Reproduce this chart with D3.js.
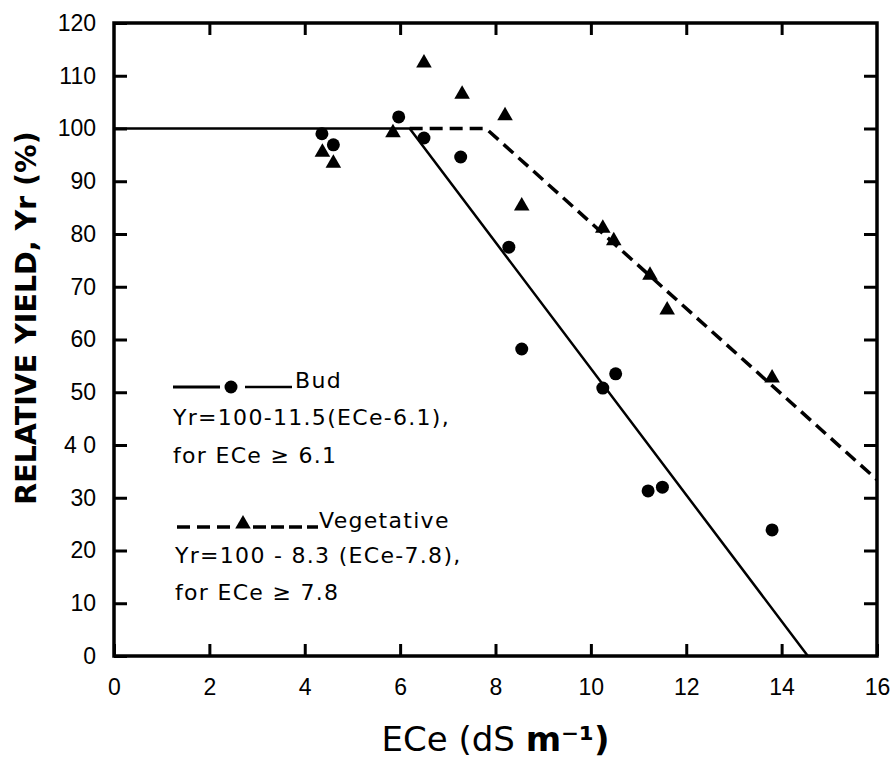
<!DOCTYPE html>
<html>
<head>
<meta charset="utf-8">
<script src="https://cdn.jsdelivr.net/npm/d3@7"></script>
<style>
  body { margin: 0; background: #fff; }
  svg { display: block; }
</style>
</head>
<body>
<svg id="chart" width="892" height="758"></svg>
<script>
// Bud stage (circles)
const budECe   = [4.36, 4.6, 5.97, 6.5, 7.27, 8.28, 8.55, 10.25, 10.52, 11.2, 11.5, 13.8];
const budYield = [99, 96.9, 102.2, 98.2, 94.6, 77.5, 58.2, 50.8, 53.5, 31.3, 32, 23.9];

// Vegetative stage (triangles)
const vegECe   = [4.37, 4.6, 5.85, 6.5, 7.3, 8.2, 8.55, 10.25, 10.48, 11.24, 11.6, 13.8];
const vegYield = [95.5, 93.4, 99.2, 112.4, 106.5, 102.4, 85.3, 81.1, 78.7, 72.2, 65.6, 52.7];

// response lines (threshold-slope), as drawn
const budLineECe   = [0, 6.2, 14.55];
const budLineYield = [100, 100, 0];
const vegLineECe   = [6.2, 7.8, 16];
const vegLineYield = [100, 100, 33.4];

// ticks
const xTicks = [0, 2, 4, 6, 8, 10, 12, 14, 16];
const yTicks = [0, 10, 20, 30, 40, 50, 60, 70, 80, 90, 100, 110, 120];
const yTickLabels = ["0", "10", "20", "30", "4 0", "50", "60", "70", "80", "90", "100", "110", "120"];

const budLegend = ["Bud", "Yr=100-11.5(ECe-6.1),", "for ECe \u2265 6.1"];
const vegLegend = ["Vegetative", "Yr=100 - 8.3 (ECe-7.8),", "for ECe \u2265 7.8"];

const svg = d3.select('#chart');
const margin = { top: 23, right: 15, bottom: 102, left: 114 };
const width = 892 - margin.left - margin.right;
const height = 758 - margin.top - margin.bottom;

const g = svg.append('g').attr('transform', `translate(${margin.left},${margin.top})`);

const x = d3.scaleLinear().domain([0, 16]).range([0, width]);
const y = d3.scaleLinear().domain([0, 120]).range([height, 0]);

// axes: ticks point inward
const xAxis = g.append('g')
  .attr('transform', `translate(0,${height})`)
  .call(d3.axisBottom(x).tickValues(xTicks).tickSizeInner(-12).tickSizeOuter(0).tickPadding(23));
xAxis.selectAll('text')
  .style('font-family', '"Liberation Sans Narrow", "Arial Narrow", "Liberation Sans", sans-serif')
  .style('font-size', '23px')
  .attr('fill', '#000');

const yAxis = g.append('g')
  .call(d3.axisLeft(y).tickValues(yTicks).tickFormat((d, i) => yTickLabels[i])
    .tickSizeInner(-13).tickSizeOuter(0).tickPadding(18));
yAxis.selectAll('text')
  .style('font-family', '"Liberation Sans", Arial, sans-serif')
  .style('font-size', '23px')
  .attr('fill', '#000');

const topAxis = g.append('g')
  .call(d3.axisTop(x).tickValues(xTicks.slice(1, -1)).tickFormat('').tickSizeInner(-12).tickSizeOuter(0));
const rightAxis = g.append('g')
  .attr('transform', `translate(${width},0)`)
  .call(d3.axisRight(y).tickValues(yTicks.slice(1, -1)).tickFormat('').tickSizeInner(-13).tickSizeOuter(0));

[xAxis, yAxis, topAxis, rightAxis].forEach(a => {
  a.select('.domain').remove();
  a.selectAll('line').attr('stroke', '#000').attr('stroke-width', 3);
});

// frame
g.append('rect')
  .attr('x', 0).attr('y', 0)
  .attr('width', width).attr('height', height)
  .attr('fill', 'none')
  .attr('stroke', '#000')
  .attr('stroke-width', 3.5);

// lines
const line = d3.line().x(d => x(d[0])).y(d => y(d[1]));
const budLine = budLineECe.map((v, i) => [v, budLineYield[i]]);
const vegLine = vegLineECe.map((v, i) => [v, vegLineYield[i]]);

g.append('path')
  .datum(vegLine)
  .attr('d', line)
  .attr('fill', 'none')
  .attr('stroke', '#000')
  .attr('stroke-width', 3.5)
  .attr('stroke-dasharray', '13,7');

g.append('path')
  .datum(budLine)
  .attr('d', line)
  .attr('fill', 'none')
  .attr('stroke', '#000')
  .attr('stroke-width', 2.5);

// points
const budPts = budECe.map((v, i) => ({ x: v, y: budYield[i] }));
const vegPts = vegECe.map((v, i) => ({ x: v, y: vegYield[i] }));

g.selectAll('circle.bud')
  .data(budPts)
  .enter()
  .append('circle')
  .attr('class', 'bud')
  .attr('cx', d => x(d.x))
  .attr('cy', d => y(d.y))
  .attr('r', 6.5)
  .attr('fill', '#000');

const tri = d3.symbol().type(d3.symbolTriangle).size(105);
g.selectAll('path.veg')
  .data(vegPts)
  .enter()
  .append('path')
  .attr('class', 'veg')
  .attr('d', tri)
  .attr('transform', d => `translate(${x(d.x)},${y(d.y)})`)
  .attr('fill', '#000');

// legend
const legendFont = '"DejaVu Sans", Verdana, sans-serif';
const budG = g.append('g').attr('transform', 'translate(59,364)');
budG.append('line').attr('x1', 0).attr('x2', 47).attr('y1', 0).attr('y2', 0)
  .attr('stroke', '#000').attr('stroke-width', 3);
budG.append('circle').attr('cx', 58).attr('cy', 0).attr('r', 6.5).attr('fill', '#000');
budG.append('line').attr('x1', 72).attr('x2', 119).attr('y1', 0).attr('y2', 0)
  .attr('stroke', '#000').attr('stroke-width', 2.5);

const vegG = g.append('g').attr('transform', 'translate(63,504)');
vegG.append('line').attr('x1', 0).attr('x2', 55).attr('y1', 0).attr('y2', 0)
  .attr('stroke', '#000').attr('stroke-width', 3.5).attr('stroke-dasharray', '13,7');
vegG.append('path').attr('d', tri).attr('transform', 'translate(66,-3)').attr('fill', '#000');
vegG.append('line').attr('x1', 76).attr('x2', 141).attr('y1', 0).attr('y2', 0)
  .attr('stroke', '#000').attr('stroke-width', 3.5).attr('stroke-dasharray', '13,5');

function legendText(sel, lines, x0, xHead, baselines) {
  sel.selectAll('text')
    .data(lines)
    .enter()
    .append('text')
    .attr('x', (d, i) => i === 0 ? xHead : x0)
    .attr('y', (d, i) => baselines[i])
    .style('font-family', legendFont)
    .style('font-size', '22px')
    .style('letter-spacing', '1.3px')
    .attr('fill', '#000')
    .text(d => d);
}
legendText(budG, budLegend, 0, 122, [1, 38, 76]);
legendText(vegG, vegLegend, -2, 142, [1, 36, 73]);

// axis titles
svg.append('text')
  .attr('transform', 'translate(36,318) rotate(-90)')
  .attr('text-anchor', 'middle')
  .style('font-family', legendFont)
  .style('font-weight', 'bold')
  .style('font-size', '28.5px')
  .attr('fill', '#000')
  .text('RELATIVE YIELD, Yr (%)');

const xTitle = svg.append('text')
  .attr('x', margin.left + width / 2)
  .attr('y', 751)
  .attr('text-anchor', 'middle')
  .style('font-family', legendFont)
  .style('font-size', '34px')
  .attr('fill', '#000');
xTitle.append('tspan').text('ECe (dS ');
xTitle.append('tspan').style('font-weight', 'bold').text('m\u207B\u00B9)');
</script>
</body>
</html>
